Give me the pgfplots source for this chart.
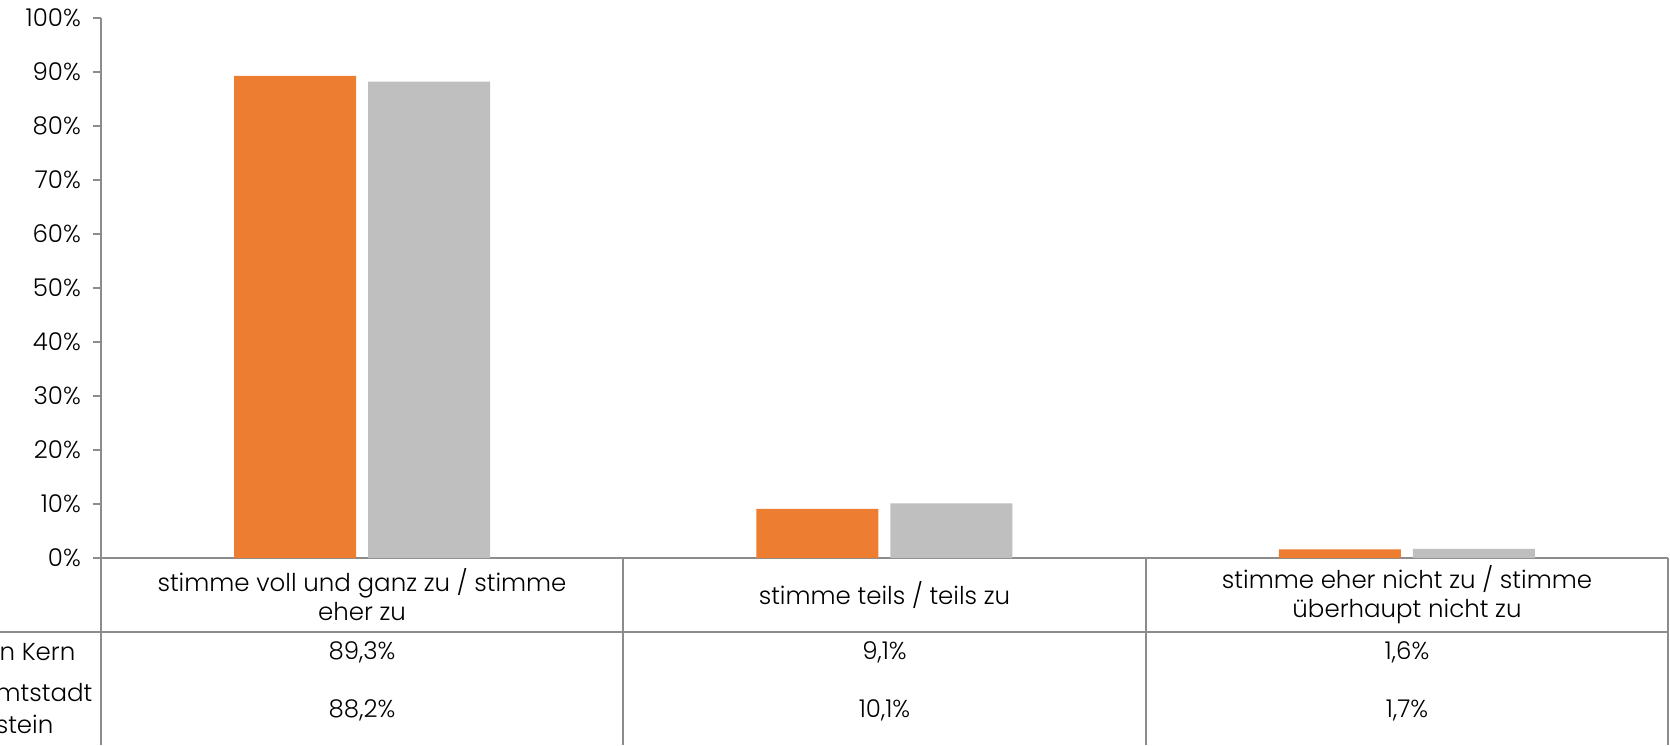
\documentclass[border=0pt]{standalone}
\usepackage{pgfplots}
\pgfplotsset{compat=1.18}
\usepackage{fontspec}
\setmainfont{Poppins}[UprightFont={* Light}]
\definecolor{barorange}{HTML}{ED7D31}
\definecolor{bargray}{HTML}{BFBFBF}
\definecolor{linegray}{HTML}{8C8C8C}
\begin{document}
\fontsize{7.35}{8.7}\selectfont
\begin{tikzpicture}
\useasboundingbox (-30.3pt,-56.1pt) rectangle (470.7pt,167.4pt);
\clip (-30.3pt,-56.1pt) rectangle (470.7pt,167.4pt);
\begin{axis}[
    at={(0,0)}, anchor=south west,
    scale only axis,
    width=470.1pt, height=162pt,
    xmin=0, xmax=3,
    ymin=0, ymax=100,
    ybar=3.6pt, bar width=36.6pt,
    axis y line*=left, axis x line*=bottom,
    axis line style={linegray, line width=0.4pt},
    xtick=\empty,
    ytick={0,10,...,100},
    yticklabel={\pgfmathprintnumber{\tick}\%},
    /pgf/number format/assume math mode=true,
    tick align=outside, major tick length=2.4pt,
    ytick style={linegray, line width=0.4pt},
    yticklabel style={font=\fontsize{7.35}{8.7}\selectfont, xshift=-1pt},
]
\addplot[fill=barorange, draw=none] coordinates {(0.5,89.3) (1.5,9.1) (2.5,1.6)};
\addplot[fill=bargray, draw=none] coordinates {(0.5,88.2) (1.5,10.1) (2.5,1.7)};
\end{axis}
\begin{scope}[x=0.3pt, y=-0.3pt, shift={(-30.3pt,167.4pt)}]
  \draw[linegray, line width=0.4pt] (101,558) -- (101,745);
  \draw[linegray, line width=0.4pt] (623,558) -- (623,745);
  \draw[linegray, line width=0.4pt] (1146,558) -- (1146,745);
  \draw[linegray, line width=0.4pt] (1668,558) -- (1668,745);
  \draw[linegray, line width=0.4pt] (0,632) -- (1668,632);
  \node[align=center] at (362,595) {stimme voll und ganz zu / stimme\\eher zu};
  \node[align=center] at (884.5,595) {stimme teils / teils zu};
  \node[align=center] at (1407,595) {stimme eher nicht zu / stimme\\überhaupt nicht zu};
  \node at (362,652) {89,3\%};
  \node at (884.5,652) {9,1\%};
  \node at (1407,652) {1,6\%};
  \node at (362,710) {88,2\%};
  \node at (884.5,710) {10,1\%};
  \node at (1407,710) {1,7\%};
  \node[anchor=east, inner sep=0pt] at (76,652) {n Kern};
  \node[anchor=east, inner sep=0pt] at (93,693) {mtstadt};
  \node[anchor=east, inner sep=0pt] at (54,724) {stein};
\end{scope}
\end{tikzpicture}
\end{document}
